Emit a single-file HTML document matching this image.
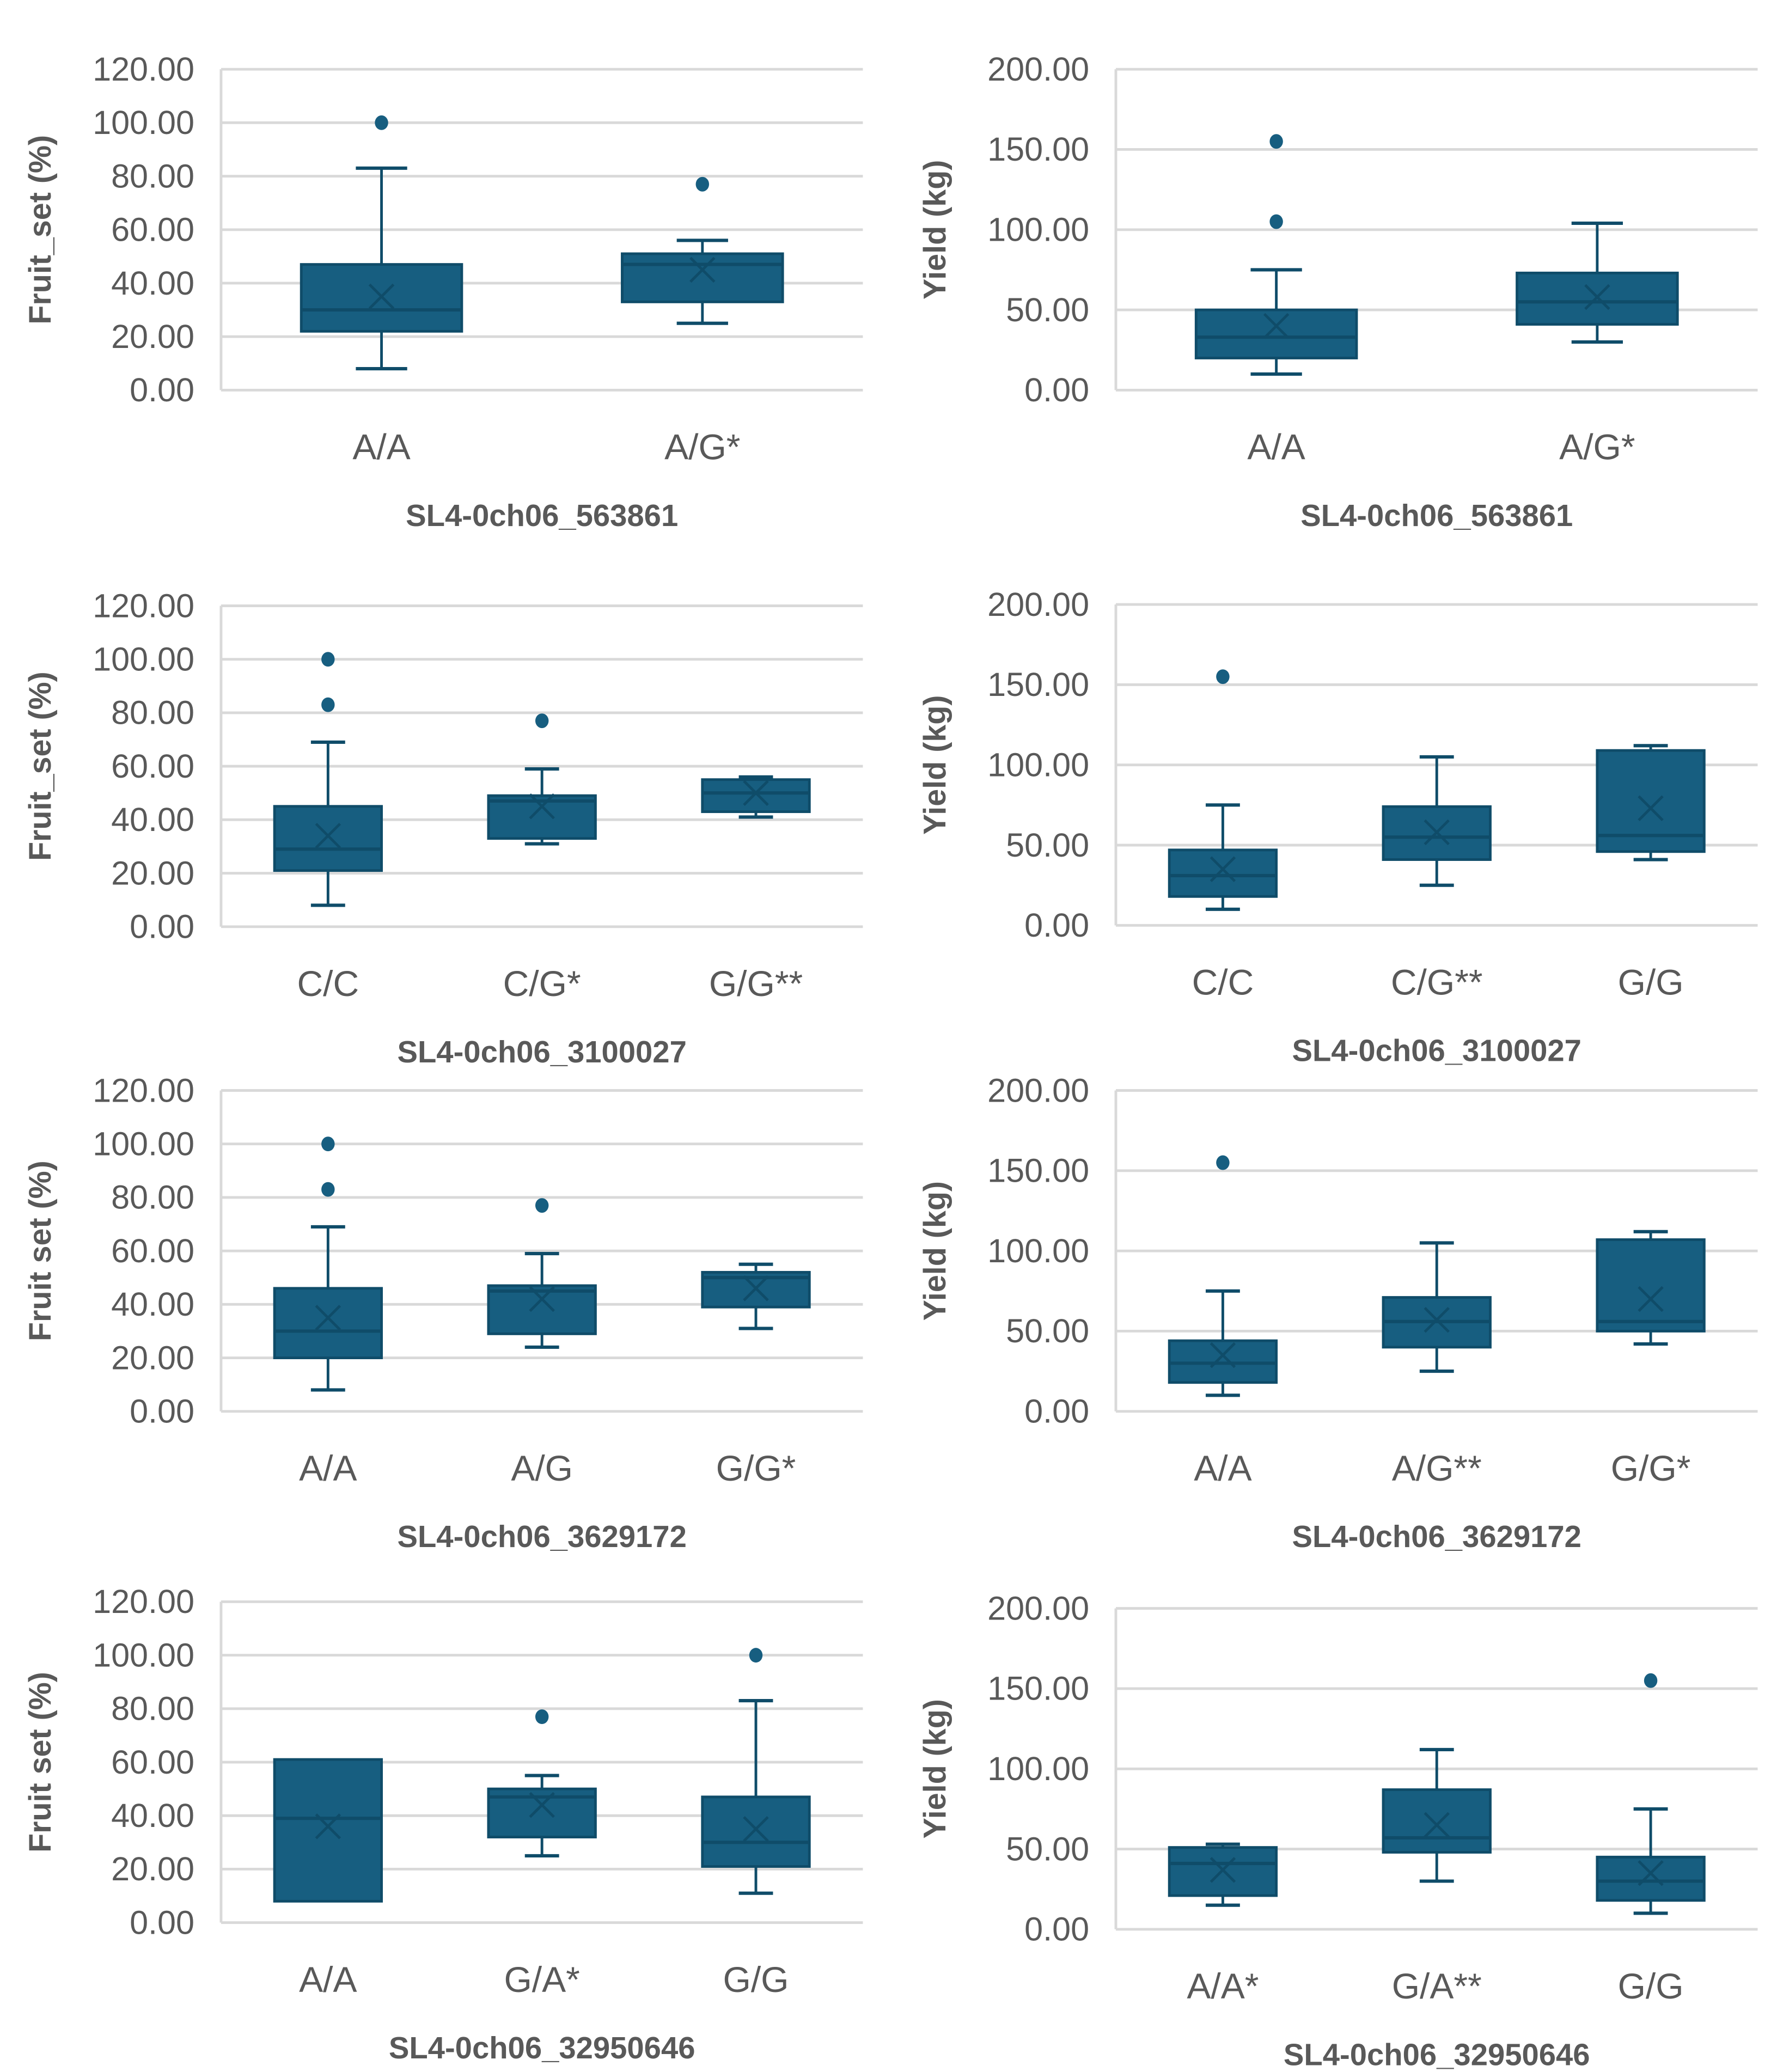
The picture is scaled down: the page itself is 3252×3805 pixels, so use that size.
<!DOCTYPE html>
<html><head><meta charset="utf-8">
<style>
html,body{margin:0;padding:0;background:#fff;}
svg{display:block;}
text{font-family:"Liberation Sans",sans-serif;}
</style></head>
<body>
<svg id="root" width="3252" height="3805" viewBox="0 0 1330 1556.2" xmlns="http://www.w3.org/2000/svg"></svg>
<script>
// ---- data (one entry per panel) ----
const panelTitles = ["SL4-0ch06_563861","SL4-0ch06_563861","SL4-0ch06_3100027","SL4-0ch06_3100027","SL4-0ch06_3629172","SL4-0ch06_3629172","SL4-0ch06_32950646","SL4-0ch06_32950646"];
const yTitles = ["Fruit_set (%)","Yield (kg)","Fruit_set (%)","Yield (kg)","Fruit set (%)","Yield (kg)","Fruit set (%)","Yield (kg)"];
const categories = [["A/A","A/G*"],["A/A","A/G*"],["C/C","C/G*","G/G**"],["C/C","C/G**","G/G"],["A/A","A/G","G/G*"],["A/A","A/G**","G/G*"],["A/A","G/A*","G/G"],["A/A*","G/A**","G/G"]];
const mins = [[8,25],[10,30],[8,31,41],[10,25,41],[8,24,31],[10,25,42],[8,25,11],[15,30,10]];
const q1s = [[22,33],[20,41],[21,33,43],[18,41,46],[20,29,39],[18,40,50],[8,32,21],[21,48,18]];
const medians = [[30,47],[33,55],[29,47,50],[31,55,56],[30,45,50],[30,56,56],[39,47,30],[41,57,30]];
const q3s = [[47,51],[50,73],[45,49,55],[47,74,109],[46,47,52],[44,71,107],[61,50,47],[51,87,45]];
const maxs = [[83,56],[75,104],[69,59,56],[75,105,112],[69,59,55],[75,105,112],[61,55,83],[53,112,75]];
const means = [[35,45],[40,58],[34,45,50],[35,58,73],[35,42,46],[35,57,70],[36,44,35],[37,65,35]];
const outliers = [[[100],[77]],[[155,105],[]],[[100,83],[77],[]],[[155],[],[]],[[100,83],[77],[]],[[155],[],[]],[[],[77],[100]],[[],[],[155]]];
const yMax = [120,200,120,200,120,200,120,200];
const yStep = [20,50,20,50,20,50,20,50];
const tickDecimals = 2;

// ---- layout ----
const plotLeft = [166,838,166,838,166,838,166,838];
const plotTop = [52,52,455,454,819,819,1203,1208];
const plotW = 482, plotH = 241;
const NS = "http://www.w3.org/2000/svg";
const root = document.getElementById('root');
const FILL = "#175e80", EDGE = "#0f4c69", GRID = "#d9d9d9", TXT = "#595959";

function mk(tag, attrs, parent){
  const e = document.createElementNS(NS, tag);
  for (const k in attrs) e.setAttribute(k, attrs[k]);
  (parent||root).appendChild(e);
  return e;
}

for (let p = 0; p < 8; p++) {
  const g = mk('g', {});
  
  
  const L = plotLeft[p], T = plotTop[p], B = T + plotH;
  const ys = v => B - v / yMax[p] * plotH;
  const n = categories[p].length;
  const cw = plotW / n;
  const xs = i => L + cw * (i + 0.5);

  for (let v = 0; v <= yMax[p]; v += yStep[p]) {
    const gl = mk('line', {x1:L, x2:L+plotW, y1:ys(v), y2:ys(v), stroke:GRID, 'stroke-width':2}, g);
    
    
    const t = mk('text', {x:L-20, y:ys(v)+8.5, 'text-anchor':'end', 'font-size':25, fill:TXT}, g);
    t.textContent = v.toFixed(tickDecimals);
    
    
  }
  const ax = mk('line', {x1:L, x2:L, y1:T, y2:B, stroke:GRID, 'stroke-width':2}, g);
  
  

  const yt = mk('text', {x:0, y:0, transform:`translate(${L-128},${T+plotH/2}) rotate(-90)`, 'text-anchor':'middle', 'font-size':23.5, 'font-weight':'bold', fill:TXT}, g);
  yt.textContent = yTitles[p];
  
  

  const xt = mk('text', {x:L+plotW/2, y:B+102, 'text-anchor':'middle', 'font-size':23, 'font-weight':'bold', fill:TXT}, g);
  xt.textContent = panelTitles[p];
  
  

  for (let i = 0; i < n; i++) {
    const cx = xs(i);
    const bw = cw * 0.5, cap = cw * 0.08;
    const cl = mk('text', {x:cx, y:B+52, 'text-anchor':'middle', 'font-size':27, fill:TXT}, g);
    cl.textContent = categories[p][i];
    
    

    const bg = mk('g', {}, g);
    
    
    mk('line', {x1:cx, x2:cx, y1:ys(maxs[p][i]), y2:ys(q3s[p][i]), stroke:EDGE, 'stroke-width':2}, bg);
    mk('line', {x1:cx, x2:cx, y1:ys(q1s[p][i]), y2:ys(mins[p][i]), stroke:EDGE, 'stroke-width':2}, bg);
    if (maxs[p][i] > q3s[p][i]) mk('line', {x1:cx-cap, x2:cx+cap, y1:ys(maxs[p][i]), y2:ys(maxs[p][i]), stroke:EDGE, 'stroke-width':2.5}, bg);
    if (mins[p][i] < q1s[p][i]) mk('line', {x1:cx-cap, x2:cx+cap, y1:ys(mins[p][i]), y2:ys(mins[p][i]), stroke:EDGE, 'stroke-width':2.5}, bg);
    mk('rect', {x:cx-bw/2, y:ys(q3s[p][i]), width:bw, height:ys(q1s[p][i])-ys(q3s[p][i]), fill:FILL, stroke:EDGE, 'stroke-width':2}, bg);
    mk('line', {x1:cx-bw/2, x2:cx+bw/2, y1:ys(medians[p][i]), y2:ys(medians[p][i]), stroke:EDGE, 'stroke-width':2.5}, bg);
    const my = ys(means[p][i]), s = 9;
    mk('path', {d:`M${cx-s} ${my-s}L${cx+s} ${my+s}M${cx-s} ${my+s}L${cx+s} ${my-s}`, stroke:EDGE, 'stroke-width':2, fill:'none'}, bg);
    outliers[p][i].forEach(v => {
      const c = mk('ellipse', {cx:cx, cy:ys(v), rx:5, ry:5.5, fill:FILL}, g);
      
      
    });
  }
}
</script>
</body></html>
